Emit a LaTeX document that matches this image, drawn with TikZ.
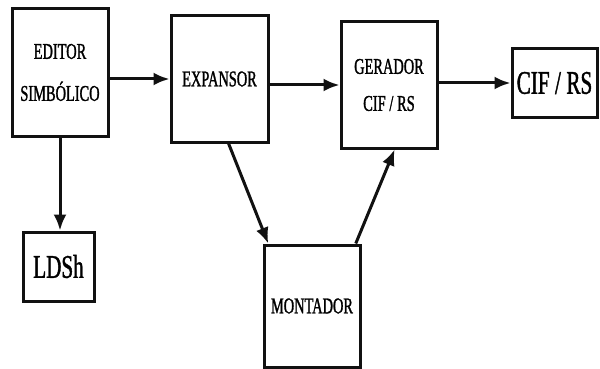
\documentclass[tikz,border=0pt]{standalone}
\usepackage{fontspec}
\usepackage{tikz}
\usetikzlibrary{positioning, arrows.meta}
\newfontfamily\blockfont{Liberation Serif}[FakeStretch=0.64, FakeBold=1.2]
\definecolor{blockline}{HTML}{111111}

\tikzset{
  blockbox/.style={draw=blockline, line width=3pt, align=center,
                   inner sep=0pt, font=\blockfont\fontsize{22.5}{37}\selectfont},
  bigbox/.style={blockbox, font=\blockfont\fontsize{33}{36}\selectfont},
  flow/.style={draw=blockline, line width=3pt,
               -{Latex[length=16pt, width=13pt]}}
}

\begin{document}
\begin{tikzpicture}[x=1pt, y=-1pt]
    \useasboundingbox (0,0) rectangle (600,369);
    % blocks
    \node[blockbox, minimum width=96pt, minimum height=127pt] (editor)
          at (60,72.5) {EDITOR\\[5pt]SIMBÓLICO};
    \node[blockbox, minimum width=97pt, minimum height=126pt] (expansor)
          at (219.5,79) {EXPANSOR};
    \node[blockbox, minimum width=96pt, minimum height=126pt] (gerador)
          at (389,85) {GERADOR\\CIF\,/\,RS};
    \node[bigbox, minimum width=85pt, minimum height=68pt] (cifrs)
          at (554.5,83) {CIF\,/\,RS};
    \node[bigbox, minimum width=71pt, minimum height=69pt] (ldsh)
          at (58.5,266.5) {LDSh};
    \node[blockbox, minimum width=96pt, minimum height=122pt] (montador)
          at (312,306) {MONTADOR};
    % connectors
    \draw[flow] (editor.east |- expansor.west) -- (expansor.west);
    \draw[flow] (expansor.east |- gerador.west) -- (gerador.west);
    \draw[flow] (gerador.east |- cifrs.west) -- (cifrs.west);
    \draw[flow] (editor.south) -- (editor.south |- ldsh.north);
    \draw[flow] (expansor.-82) -- (montador.125);
    \draw[flow] (montador.55) -- (gerador.-85);
  \end{tikzpicture}
\end{document}
